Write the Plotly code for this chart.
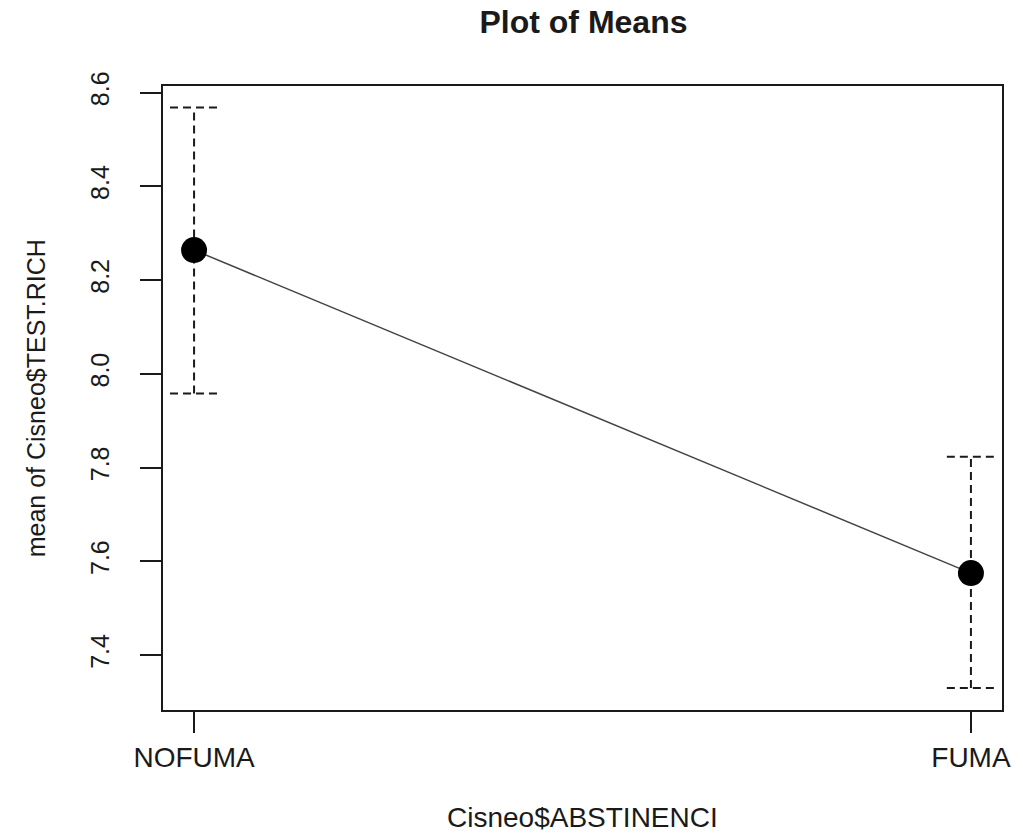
import plotly.graph_objects as go

categories = ["NOFUMA", "FUMA"]
x_pos = [1, 2]
means = [8.264, 7.575]
lower = [7.958, 7.330]
upper = [8.568, 7.823]
y_ticks = [7.4, 7.6, 7.8, 8.0, 8.2, 8.4, 8.6]
y_ticktext = ["7.4", "7.6", "7.8", "8.0", "8.2", "8.4", "8.6"]

CAP_HALF = 0.031
FONT = "Liberation Sans, Arial, sans-serif"
INK = "#1a1a1a"

fig = go.Figure()

# dashed error bars (vertical + caps)
for xi, lo, hi in zip(x_pos, lower, upper):
    fig.add_trace(go.Scatter(
        x=[xi, xi, None, xi - CAP_HALF, xi + CAP_HALF, None, xi - CAP_HALF, xi + CAP_HALF],
        y=[lo, hi, None, hi, hi, None, lo, lo],
        mode="lines",
        line=dict(color=INK, width=2, dash="8px,5px"),
        hoverinfo="skip", showlegend=False))

fig.add_trace(go.Scatter(
    x=x_pos, y=means, mode="lines+markers",
    line=dict(color="#444444", width=1.5),
    marker=dict(color="black", size=26, line=dict(width=0)),
    showlegend=False))

fig.update_layout(
    width=1023, height=837,
    margin=dict(l=163, r=19, t=86, b=127),
    paper_bgcolor="white", plot_bgcolor="white",
    font=dict(family=FONT, color=INK),
    title=dict(text="<b>Plot of Means</b>", x=(163 + 1004) / 2 / 1023, xanchor="center",
               y=1 - 22 / 837, yanchor="middle", yref="container",
               font=dict(size=32, family=FONT, color=INK)),
    xaxis=dict(range=[0.96, 2.04], tickvals=x_pos, ticktext=categories,
               showgrid=False, zeroline=False,
               showline=True, mirror=True, linecolor=INK, linewidth=2,
               ticks="outside", ticklen=21, tickwidth=2, tickcolor=INK,
               tickfont=dict(size=28, family=FONT, color=INK),
               ticklabelstandoff=0),
    yaxis=dict(range=[7.283, 8.614], tickvals=y_ticks, ticktext=y_ticktext,
               showgrid=False, zeroline=False,
               showline=True, mirror=True, linecolor=INK, linewidth=2,
               ticks="outside", ticklen=21, tickwidth=2, tickcolor=INK,
               tickangle=-90,
               tickfont=dict(size=25, family=FONT, color=INK),
               ticklabelstandoff=21),
    annotations=[
        dict(text="Cisneo$ABSTINENCI", xref="paper", yref="paper",
             x=0.5, y=-0.173, xanchor="center", yanchor="middle",
             showarrow=False, font=dict(size=28, family=FONT, color=INK)),
        dict(text="mean of Cisneo$TEST.RICH", xref="paper", yref="paper",
             x=-0.151, y=0.5, xanchor="center", yanchor="middle", textangle=-90,
             showarrow=False, font=dict(size=25, family=FONT, color=INK)),
    ],
)

fig.write_html("out.html")
